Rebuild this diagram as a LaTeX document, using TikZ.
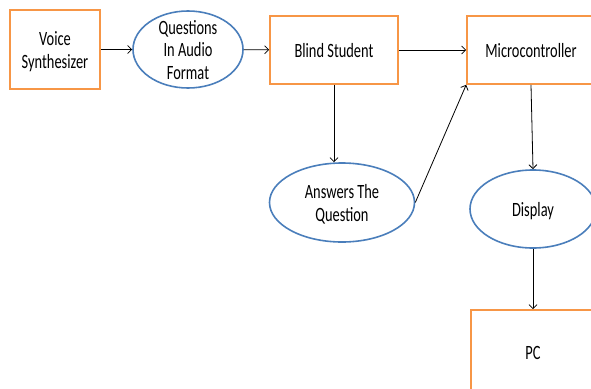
\documentclass[tikz,border=0pt]{standalone}
\usepackage{fontspec}
\setmainfont{Carlito}
\usepackage{tikz}
\usetikzlibrary{shapes.geometric,arrows.meta}
\definecolor{boxorange}{HTML}{F79646}
\definecolor{ovalblue}{HTML}{4A7EBB}
\newcommand{\tallText}[1]{\raisebox{-8pt}[0pt][0pt]{\scalebox{1.03}[1.45]{\begin{tabular}{@{}c@{}}#1\end{tabular}}}}
\tikzset{
  block/.style={draw=boxorange, line width=1.6pt, align=center, inner sep=0pt},
  oval/.style={ellipse, draw=ovalblue, line width=1.6pt, align=center, inner sep=0pt},
  txt/.style={font=\fontsize{14}{15.5}\selectfont},
  link/.style={-{Straight Barb[length=4pt,width=8pt]}, line width=0.8pt}
}

\begin{document}
\begin{tikzpicture}[x=1pt, y=1pt, node distance=4cm, auto]
		\useasboundingbox (0,0) rectangle (591,-388);
		\node (vs) [block, txt, minimum width=90pt, minimum height=79pt] at (55,-49.5) {\tallText{Voice\\Synthesizer}};
		\node (qa) [oval, txt, minimum width=110pt, minimum height=77pt] at (188,-49.5) {\tallText{Questions\\In Audio\\Format}};
		\node (bs) [block, txt, minimum width=128pt, minimum height=68pt] at (334,-50) {\tallText{Blind Student}};
		\node (mc) [block, txt, minimum width=128pt, minimum height=68pt] at (531,-50) {\tallText{Microcontroller}};
		\node (ans) [oval, txt, minimum width=145pt, minimum height=79pt] at (342,-202.5) {\tallText{Answers The\\Question}};
		\node (disp) [oval, txt, minimum width=126pt, minimum height=78pt] at (533,-209) {\tallText{Display}};
		\node (pc) [block, txt, minimum width=124pt, minimum height=84pt] at (533,-352) {\tallText{PC}};
		%\node (sp) [below of=ans] {};
		\draw[link] (vs) to (qa);
		\draw[link] (qa) to (bs);
		\draw[link] (bs) to (mc);
		\draw[link] (bs.south) to (bs.south |- ans.north);
		\draw[link] (ans.east) to (mc.south west);
		\draw[link] (mc.south) to (disp.north);
		\draw[link] (disp.south) to (pc.north);
	\end{tikzpicture}
\end{document}
